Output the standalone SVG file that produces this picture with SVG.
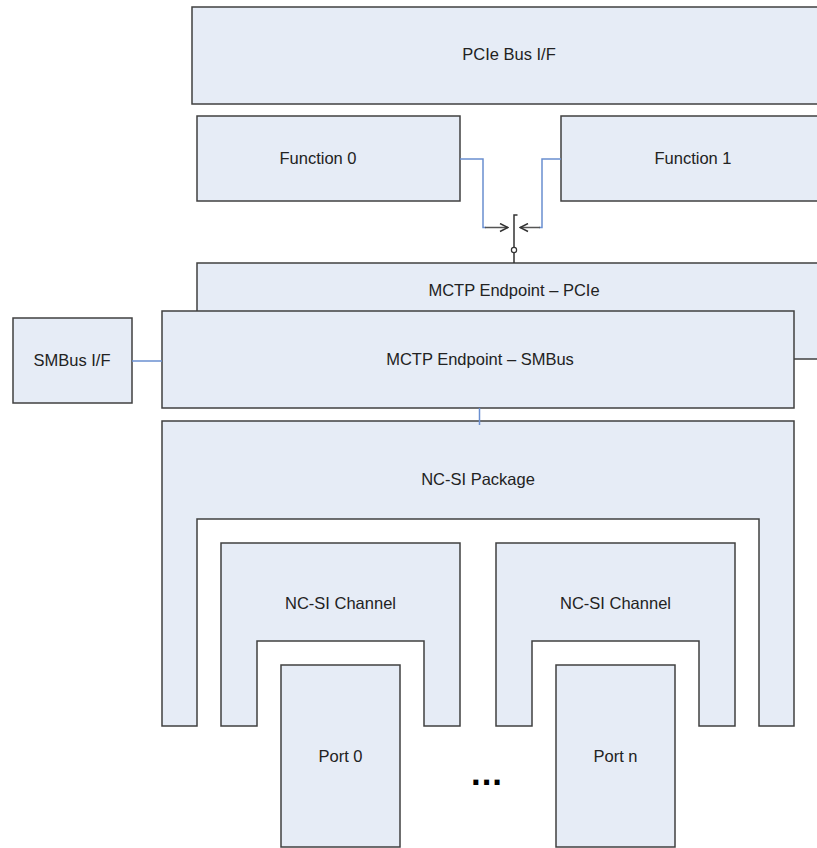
<svg xmlns="http://www.w3.org/2000/svg" width="817" height="848" viewBox="0 0 817 848">
<style>
  .box{fill:#E6ECF6;stroke:#404040;stroke-width:1.5}
  .lbl{font-family:"Liberation Sans",Arial,sans-serif;font-size:16.5px;fill:#222;text-anchor:middle}
  .blue{fill:none;stroke:#6A8FD0;stroke-width:1.5}
  .grey{fill:none;stroke:#555;stroke-width:1.5}
</style>
<defs>
  <marker id="arr" viewBox="0 0 10 10" refX="9" refY="5" markerWidth="10" markerHeight="10" markerUnits="userSpaceOnUse" orient="auto">
    <path d="M1,1 L9,5 L1,9" fill="none" stroke="#333" stroke-width="1.5"/>
  </marker>
</defs>
<rect width="817" height="848" fill="#fff"/>
<g id="pcie-bus">
  <rect class="box" x="192" y="7" width="634" height="97"/>
  <text class="lbl" x="509" y="59.5">PCIe Bus I/F</text>
</g>
<g id="function0">
  <rect class="box" x="197" y="116" width="263" height="85"/>
  <text class="lbl" x="318" y="164">Function 0</text>
</g>
<g id="function1">
  <rect class="box" x="561" y="116" width="264" height="85"/>
  <text class="lbl" x="693" y="164">Function 1</text>
</g>
<g id="mctp-pcie">
  <rect class="box" x="197" y="263" width="634" height="96"/>
  <text class="lbl" x="514" y="296">MCTP Endpoint – PCIe</text>
</g>
<g id="mctp-smbus">
  <rect class="box" x="162" y="311" width="632" height="97"/>
  <text class="lbl" x="480" y="365">MCTP Endpoint – SMBus</text>
</g>
<g id="smbus-if">
  <rect class="box" x="13" y="318" width="119" height="85"/>
  <text class="lbl" x="72" y="366">SMBus I/F</text>
</g>
<g id="ncsi-package">
  <path class="box" d="M162,421 H794 V726 H759 V519 H197 V726 H162 Z"/>
  <text class="lbl" x="478" y="485">NC-SI Package</text>
</g>
<g id="ncsi-channel0">
  <path class="box" d="M221,543 H460 V726 H424 V641 H257 V726 H221 Z"/>
  <text class="lbl" x="340.5" y="608.5">NC-SI Channel</text>
</g>
<g id="ncsi-channeln">
  <path class="box" d="M496,543 H735 V726 H699 V641 H532 V726 H496 Z"/>
  <text class="lbl" x="615.5" y="608.5">NC-SI Channel</text>
</g>
<g id="port0">
  <rect class="box" x="281" y="665" width="119" height="182"/>
  <text class="lbl" x="340.5" y="762">Port 0</text>
</g>
<g id="portn">
  <rect class="box" x="556" y="665" width="119" height="182"/>
  <text class="lbl" x="615.5" y="762">Port n</text>
</g>
<g id="ellipsis">
  <text x="486.5" y="784.5" style="font-family:'DejaVu Sans',sans-serif;font-weight:bold;font-size:28px;fill:#000;text-anchor:middle">...</text>
</g>
<g id="connectors">
  <polyline class="blue" points="460,159 483,159 483,227.5 486,227.5"/>
  <line class="grey" x1="485" y1="227.5" x2="508" y2="227.5" marker-end="url(#arr)"/>
  <polyline class="blue" points="561,159 542,159 542,227.5 539,227.5"/>
  <line class="grey" x1="540" y1="227.5" x2="520" y2="227.5" marker-end="url(#arr)"/>
  <polyline points="517.5,215 514,215 514,263" fill="none" stroke="#333" stroke-width="1.5"/>
  <circle cx="514" cy="250" r="2.6" fill="#fff" stroke="#333" stroke-width="1.2"/>
  <line class="blue" x1="132" y1="361" x2="162" y2="361"/>
  <line class="blue" x1="479.5" y1="408" x2="479.5" y2="425"/>
</g>
</svg>
